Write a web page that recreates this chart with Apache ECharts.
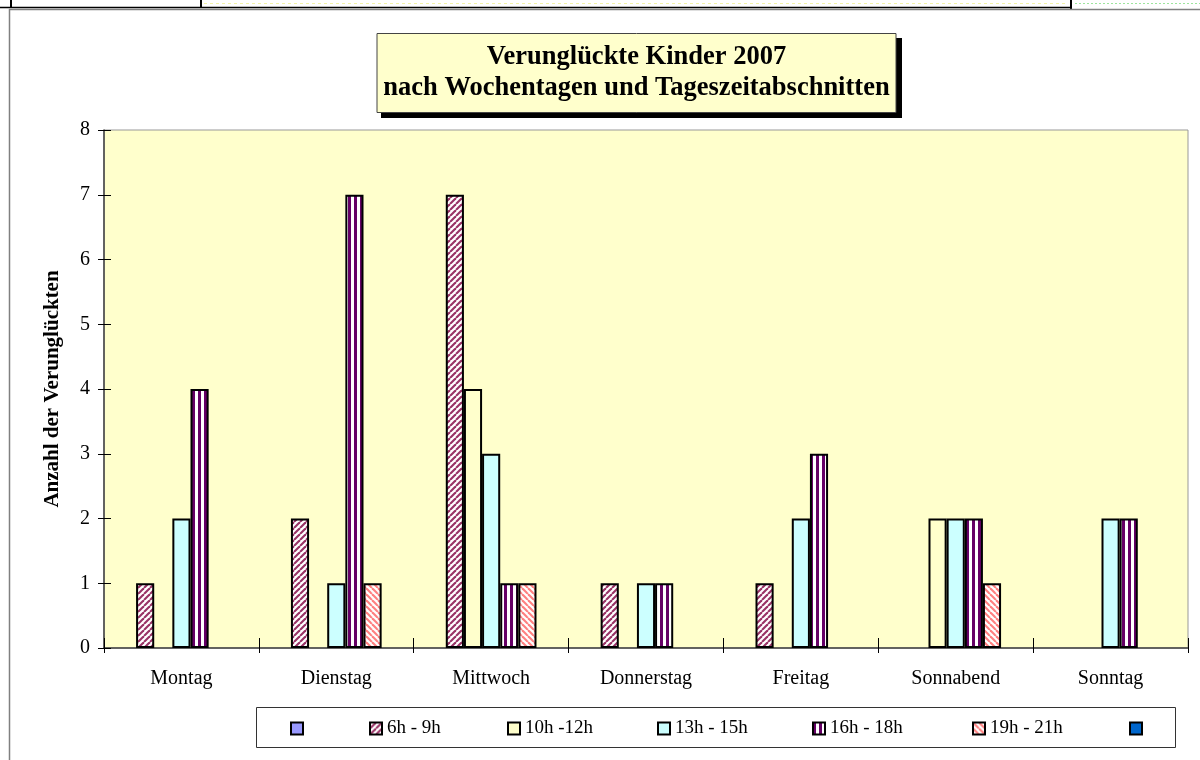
<!DOCTYPE html>
<html>
<head>
<meta charset="utf-8">
<title>Verunglückte Kinder 2007</title>
<script src="https://cdn.jsdelivr.net/npm/echarts@6/dist/echarts.min.js"></script>
<style>
  html, body { margin: 0; padding: 0; background: #fff; }
  #chart { width: 1200px; height: 760px; }
</style>
</head>
<body>
<div id="chart"></div>
<script>
// Weekdays along the x axis
const days = ['Montag', 'Dienstag', 'Mittwoch', 'Donnerstag', 'Freitag', 'Sonnabend', 'Sonntag'];

// Series names (two unnamed slots keep their place in the legend)
const seriesNames = [' ', '6h - 9h', '10h -12h', '13h - 15h', '16h - 18h', '19h - 21h', '  '];

// Number of injured children per weekday and time of day
const slotEmptyA = [0, 0, 0, 0, 0, 0, 0];
const h6to9     = [1, 2, 7, 1, 1, 0, 0];
const h10to12   = [0, 0, 4, 0, 0, 2, 0];
const h13to15   = [2, 1, 3, 1, 2, 2, 2];
const h16to18   = [4, 7, 1, 1, 3, 2, 2];
const h19to21   = [0, 1, 1, 0, 0, 1, 0];
const slotEmptyB = [0, 0, 0, 0, 0, 0, 0];

// Value axis range
const yMin = 0, yMax = 8, yStep = 1;

const values = [slotEmptyA, h6to9, h10to12, h13to15, h16to18, h19to21, slotEmptyB];

const FONT = 'Liberation Serif';

// Hatch fills
function diagonal(color, dir, size) {
  const c = document.createElement('canvas');
  c.width = c.height = size;
  const g = c.getContext('2d');
  g.fillStyle = '#ffffff';
  g.fillRect(0, 0, size, size);
  g.strokeStyle = color;
  g.lineWidth = size * 0.36;
  for (let k = -1; k <= 1; k++) {
    g.beginPath();
    if (dir === '/') { g.moveTo(k * size, size); g.lineTo(k * size + size, 0); }
    else { g.moveTo(k * size, 0); g.lineTo(k * size + size, size); }
    g.stroke();
  }
  return { image: c, repeat: 'repeat' };
}
function vertical(color, period) {
  const c = document.createElement('canvas');
  c.width = period; c.height = period;
  const g = c.getContext('2d');
  g.fillStyle = '#ffffff';
  g.fillRect(0, 0, period, period);
  g.fillStyle = color;
  g.fillRect(0, 0, period / 2, period);
  return { image: c, repeat: 'repeat' };
}

const fills = [
  '#9999FF',
  diagonal('#993366', '/', 6),
  '#FFFFCC',
  '#CCFFFF',
  vertical('#660066', 6),
  diagonal('#FF8080', '\\', 6),
  '#0066CC'
];

const series = seriesNames.map((name, i) => ({
  name: name,
  type: 'bar',
  xAxisIndex: 0,
  yAxisIndex: 0,
  barGap: '0%',
  barCategoryGap: '18%',
  itemStyle: { color: fills[i], borderColor: '#000', borderWidth: 2 },
  emphasis: { disabled: true },
  data: values[i].map(v => (v === 0 ? '-' : v))
}));

// Legend entry positions (x of each entry)
const legendLeft = [285, 364, 502, 652, 807, 967, 1124];
const legends = seriesNames.map((name, i) => ({
  data: [name],
  left: legendLeft[i],
  top: 714,
  icon: 'rect',
  itemWidth: 12,
  itemHeight: 12,
  selectedMode: false,
  itemStyle: { borderColor: '#000', borderWidth: 2 },
  textStyle: { fontFamily: FONT, fontSize: 19, color: '#000' }
}));

const chart = echarts.init(document.getElementById('chart'), null, { renderer: 'canvas' });

chart.setOption({
  animation: false,
  backgroundColor: '#ffffff',
  title: {
    text: 'Verunglückte Kinder 2007\nnach Wochentagen und Tageszeitabschnitten',
    left: 629.5,
    top: 33,
    textAlign: 'center',
    padding: [9, 7, 9, 7],
    backgroundColor: '#FFFFCC',
    borderColor: '#444444',
    borderWidth: 1,
    z: 10,
    textStyle: {
      fontFamily: FONT,
      fontWeight: 'bold',
      fontSize: 26.5,
      lineHeight: 31,
      color: '#000'
    }
  },
  legend: legends,
  grid: {
    left: 104,
    right: 12,
    top: 130,
    bottom: 112,
    show: true,
    backgroundColor: '#FFFFCC',
    borderColor: '#999999',
    borderWidth: 1
  },
  xAxis: [
    {
      type: 'category',
      data: days,
      position: 'bottom',
      axisLine: { lineStyle: { color: '#404040', width: 1.5 } },
      axisTick: { show: true, inside: false, length: 5, lineStyle: { color: '#000' } },
      axisLabel: { fontFamily: FONT, fontSize: 20, color: '#000', margin: 21 },
      splitLine: { show: false }
    },
    {
      type: 'category',
      data: days,
      position: 'bottom',
      axisLine: { show: false },
      axisTick: { show: true, inside: true, length: 10, lineStyle: { color: '#000' } },
      axisLabel: { show: false },
      splitLine: { show: false }
    }
  ],
  yAxis: [
    {
      type: 'value',
      min: yMin,
      max: yMax,
      interval: yStep,
      position: 'left',
      name: 'Anzahl der Verunglückten',
      nameLocation: 'middle',
      nameRotate: 90,
      nameGap: 41,
      nameTextStyle: { fontFamily: FONT, fontWeight: 'bold', fontSize: 21, color: '#000' },
      axisLine: { show: true, lineStyle: { color: '#404040', width: 1.5 } },
      axisTick: { show: true, inside: false, length: 6, lineStyle: { color: '#000' } },
      axisLabel: { fontFamily: FONT, fontSize: 20, color: '#000', margin: 14 },
      splitLine: { show: false }
    },
    {
      type: 'value',
      min: yMin,
      max: yMax,
      interval: yStep,
      position: 'left',
      offset: 0,
      axisLine: { show: false },
      axisTick: { show: true, inside: true, length: 7, lineStyle: { color: '#000' } },
      axisLabel: { show: false },
      splitLine: { show: false }
    }
  ],
  graphic: [
    // worksheet cell borders above the chart
    { type: 'line', shape: { x1: 0, y1: 7.5, x2: 1071, y2: 7.5 }, style: { stroke: '#000', lineWidth: 1.5 }, silent: true },
    { type: 'line', shape: { x1: 11, y1: 0, x2: 11, y2: 8 }, style: { stroke: '#000', lineWidth: 2 }, silent: true },
    { type: 'line', shape: { x1: 201, y1: 0, x2: 201, y2: 8 }, style: { stroke: '#000', lineWidth: 2 }, silent: true },
    { type: 'line', shape: { x1: 1071, y1: 0, x2: 1071, y2: 9 }, style: { stroke: '#000', lineWidth: 2 }, silent: true },
    { type: 'line', shape: { x1: 204, y1: 3.5, x2: 1068, y2: 3.5 }, style: { stroke: '#F2F2A8', lineWidth: 1, lineDash: [3, 3] }, silent: true },
    { type: 'line', shape: { x1: 1075, y1: 3.5, x2: 1200, y2: 3.5 }, style: { stroke: '#9EE59E', lineWidth: 1, lineDash: [2, 2] }, silent: true },
    // chart frame
    { type: 'line', shape: { x1: 9, y1: 9.5, x2: 1200, y2: 9.5 }, style: { stroke: '#808080', lineWidth: 1.5 }, silent: true },
    { type: 'line', shape: { x1: 9.5, y1: 9, x2: 9.5, y2: 760 }, style: { stroke: '#808080', lineWidth: 1.5 }, silent: true },
    // title shadow
    { type: 'rect', shape: { x: 381, y: 38, width: 521, height: 80 }, style: { fill: '#000' }, z: 5, silent: true },
    // legend frame
    { type: 'rect', shape: { x: 256.5, y: 707.5, width: 919, height: 40 }, style: { fill: '#fff', stroke: '#333', lineWidth: 1 }, z: -1, silent: true }
  ],
  series: series
});
</script>
</body>
</html>
